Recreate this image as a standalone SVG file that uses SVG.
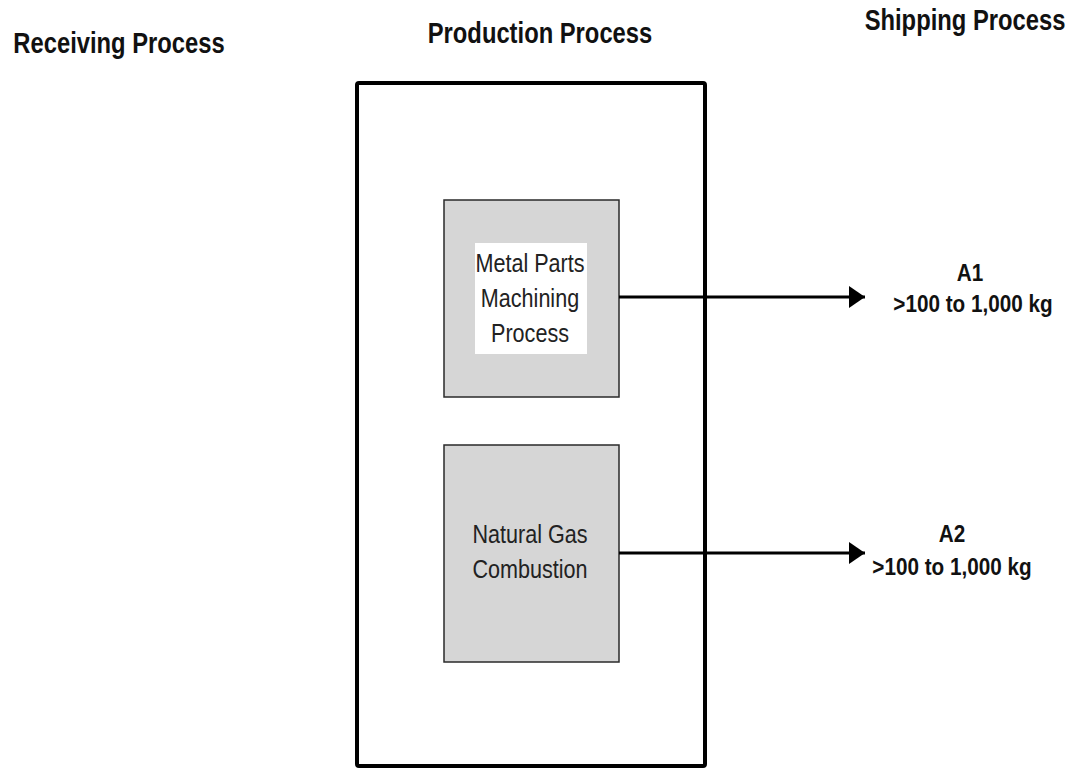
<svg xmlns="http://www.w3.org/2000/svg" width="1074" height="771" viewBox="0 0 1074 771">
<style>
.hdr{font-family:"Liberation Sans",Arial,sans-serif;font-weight:bold;font-size:29px;fill:#111;text-anchor:middle}
.lbl{font-family:"Liberation Sans",Arial,sans-serif;font-weight:bold;font-size:23px;fill:#111;text-anchor:middle}
.box{fill:#d6d6d6;stroke:#2a2a2a;stroke-width:1.5}
.txt{font-family:"Liberation Sans",Arial,sans-serif;font-size:26px;fill:#222;text-anchor:middle}
.conn{stroke:#000;stroke-width:3;fill:none}
</style>
<defs>
<marker id="ah" markerUnits="userSpaceOnUse" markerWidth="18" markerHeight="22" refX="16" refY="11" orient="auto">
<path d="M0,0 L16,11 L0,22 Z" fill="#000"/>
</marker>
</defs>
<rect width="1074" height="771" fill="#fff"/>
<g id="headers">
<text class="hdr" transform="translate(119,53) scale(0.82,1)">Receiving Process</text>
<text class="hdr" transform="translate(540,43) scale(0.82,1)">Production Process</text>
<text class="hdr" transform="translate(965,30) scale(0.82,1)">Shipping Process</text>
</g>
<g id="production">
<rect x="357" y="83" width="348" height="683" rx="2" fill="#fff" stroke="#000" stroke-width="4"/>
</g>
<g id="machining">
<rect class="box" x="444" y="200" width="175" height="197"/>
<rect x="475" y="243" width="112" height="111" fill="#fff"/>
<text class="txt" transform="translate(530,272) scale(0.83,1)">Metal Parts</text>
<text class="txt" transform="translate(530,307) scale(0.83,1)">Machining</text>
<text class="txt" transform="translate(530,342) scale(0.83,1)">Process</text>
</g>
<g id="combustion">
<rect class="box" x="444" y="445" width="175" height="217"/>
<text class="txt" transform="translate(530,543) scale(0.83,1)">Natural Gas</text>
<text class="txt" transform="translate(530,578) scale(0.83,1)">Combustion</text>
</g>
<g id="connectors">
<line class="conn" x1="619" y1="297" x2="865" y2="297" marker-end="url(#ah)"/>
<line class="conn" x1="619" y1="553" x2="865" y2="553" marker-end="url(#ah)"/>
</g>
<g id="a1">
<text class="lbl" transform="translate(970,281) scale(0.9,1)">A1</text>
<text class="lbl" transform="translate(973,312) scale(0.9,1)">&gt;100 to 1,000 kg</text>
</g>
<g id="a2">
<text class="lbl" transform="translate(952,542) scale(0.9,1)">A2</text>
<text class="lbl" transform="translate(952,575) scale(0.9,1)">&gt;100 to 1,000 kg</text>
</g>
</svg>
